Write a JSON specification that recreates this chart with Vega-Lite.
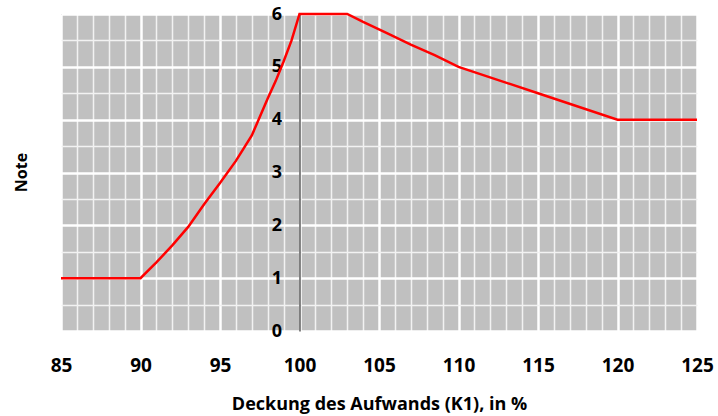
{
  "$schema": "https://vega.github.io/schema/vega-lite/v6.json",
  "width": 636,
  "height": 317,
  "autosize": "none",
  "padding": {"left": 61, "top": 14, "right": 21, "bottom": 85},
  "background": "white",
  "view": {"fill": "#c0c0c0", "stroke": null},
  "config": {
    "font": "Open Sans",
    "axis": {"labelFont": "Open Sans", "titleFont": "Open Sans"}
  },
  "data": {
    "values": [
      {"k1": 85, "note": 1},
      {"k1": 90, "note": 1},
      {"k1": 91, "note": 1.3},
      {"k1": 92, "note": 1.62},
      {"k1": 93, "note": 1.97},
      {"k1": 94, "note": 2.4},
      {"k1": 95, "note": 2.8},
      {"k1": 96, "note": 3.22},
      {"k1": 97, "note": 3.7},
      {"k1": 97.5, "note": 4.05},
      {"k1": 98, "note": 4.4},
      {"k1": 98.5, "note": 4.73},
      {"k1": 99, "note": 5.1},
      {"k1": 99.5, "note": 5.5},
      {"k1": 100, "note": 6},
      {"k1": 103, "note": 6},
      {"k1": 104, "note": 5.85},
      {"k1": 105.5, "note": 5.64},
      {"k1": 107, "note": 5.42},
      {"k1": 108.5, "note": 5.22},
      {"k1": 110, "note": 5},
      {"k1": 115, "note": 4.5},
      {"k1": 120, "note": 4},
      {"k1": 125, "note": 4}
    ]
  },
  "mark": {"type": "line", "color": "#ff0000", "strokeWidth": 2.5, "clip": false},
  "encoding": {
    "x": {
      "field": "k1",
      "type": "quantitative",
      "scale": {"domain": [85, 125], "nice": false, "zero": false},
      "axis": {
        "title": "Deckung des Aufwands (K1), in %",
        "titleFontSize": 18,
        "titleFontWeight": "bold",
        "titleColor": "black",
        "titleBaseline": "alphabetic",
        "titleY": 78,
        "values": [85,86,87,88,89,90,91,92,93,94,95,96,97,98,99,100,101,102,103,104,105,106,107,108,109,110,111,112,113,114,115,116,117,118,119,120,121,122,123,124,125],
        "labelExpr": "datum.value % 5 === 0 ? datum.label : ''",
        "labelFontSize": 19,
        "labelFontWeight": "bold",
        "labelColor": "black",
        "labelPadding": 25,
        "labelBaseline": "top",
        "labelFlush": false,
        "labelOverlap": false,
        "domain": false,
        "ticks": false,
        "grid": true,
        "gridColor": {"condition": {"test": "datum.value % 5 === 0", "value": "#ffffff"}, "value": "#f2f2f2"},
        "gridWidth": {"condition": {"test": "datum.value % 5 === 0", "value": 2.5}, "value": 1.5},
        "gridOpacity": 1
      }
    },
    "y": {
      "field": "note",
      "type": "quantitative",
      "scale": {"domain": [0, 6], "nice": false},
      "axis": {
        "title": "Note",
        "titleFontSize": 16,
        "titleFontWeight": "bold",
        "titleColor": "black",
        "titleX": -278,
        "titleY": 158,
        "titleAngle": -90,
        "titleAlign": "center",
        "titleBaseline": "middle",
        "offset": -238.5,
        "values": [0,0.5,1,1.5,2,2.5,3,3.5,4,4.5,5,5.5,6],
        "labelExpr": "datum.value % 1 === 0 ? format(datum.value, 'd') : ''",
        "labelFontSize": 18,
        "labelFontWeight": "bold",
        "labelColor": "black",
        "labelPadding": 18,
        "labelFlush": false,
        "labelOverlap": false,
        "domain": true,
        "domainColor": "#333333",
        "domainWidth": 1.2,
        "ticks": false,
        "grid": true,
        "gridColor": {"condition": {"test": "datum.value % 1 === 0", "value": "#ffffff"}, "value": "#f2f2f2"},
        "gridWidth": {"condition": {"test": "datum.value % 1 === 0", "value": 2.5}, "value": 1.5},
        "gridOpacity": 1
      }
    }
  }
}
